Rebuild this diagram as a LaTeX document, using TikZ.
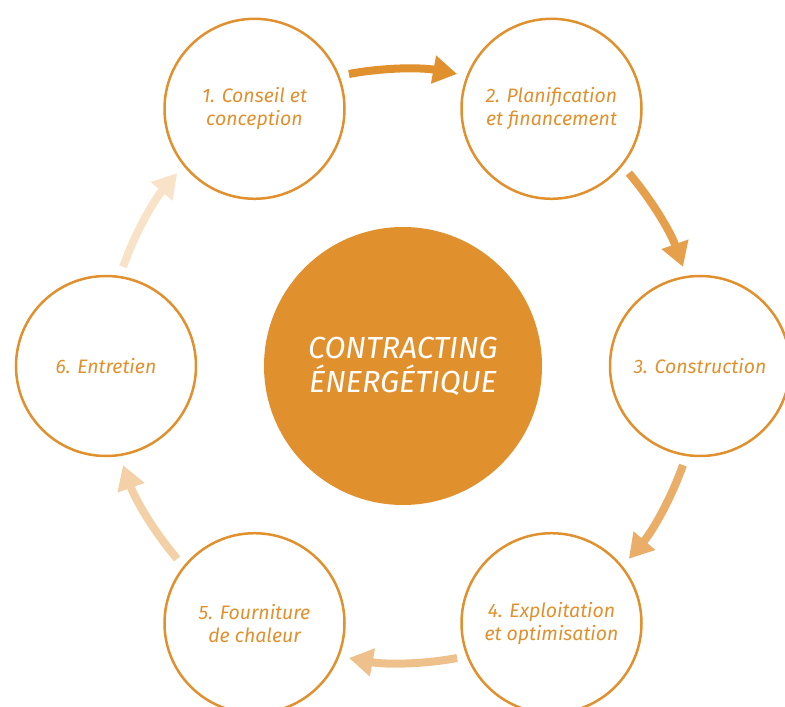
\documentclass[tikz,border=0pt]{standalone}
\usepackage{fontspec}
\setmainfont{Fira Sans}
\usetikzlibrary{arrows.meta}
\definecolor{ce}{HTML}{E1902E}
\definecolor{arA}{HTML}{E1902E}
\definecolor{arB}{HTML}{E6A04C}
\definecolor{arC}{HTML}{EBAE68}
\definecolor{arD}{HTML}{EEC18C}
\definecolor{arE}{HTML}{F3D0A6}
\definecolor{arF}{HTML}{F8E3C8}

\begin{document}
\begin{tikzpicture}[x=1pt,y=1pt,
    stage/.style={draw=ce,line width=2.5pt,circle,minimum size=180pt,inner sep=0pt,
      text=ce,align=center,font=\itshape\fontsize{19.5}{23}\selectfont},
    flow/.style={line width=8pt,-{Triangle[length=24pt,width=27pt]}}]
  \useasboundingbox (0,0) rectangle (785,707);
  \node[circle,fill=ce,minimum size=278pt,inner sep=0pt,text=white,align=center,
    font=\itshape\fontsize{30.5}{34}\selectfont] (ctr) at (403,341) {CONTRACTING\\ÉNERGÉTIQUE};
  \foreach[count=\i,evaluate={180-\i*60} as \a] \t in {{1. Conseil et\\conception},{2. Planification\\et financement},
    {3. Construction},{4. Exploitation\\et optimisation},{5. Fourniture\\de chaleur},{6. Entretien}} {
    \node[stage] (c\i) at ([shift={(\a:297)}]ctr.center) {\t};
  }
  \foreach[count=\i,evaluate={150-\i*60} as \m] \col in {arA,arB,arC,arD,arE,arF} {
    \draw[flow,draw=\col] ([shift={(\m+10.5:297)}]ctr.center) arc[start angle=\m+10.5,end angle=\m-10.5,radius=297];
  }
\end{tikzpicture}
\end{document}
